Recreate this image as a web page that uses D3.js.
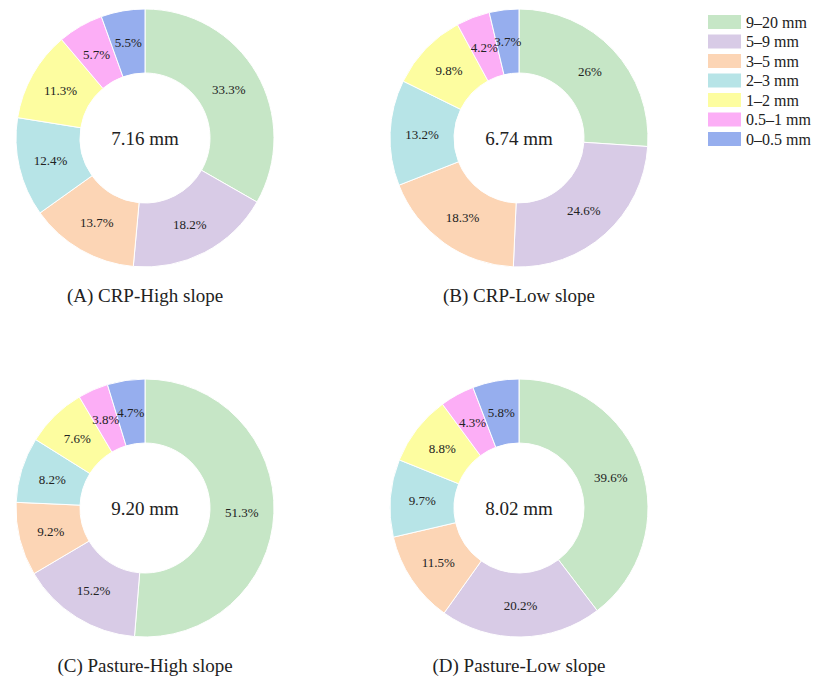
<!DOCTYPE html>
<html lang="en">
<head>
  <meta charset="UTF-8">
  <title>Particle size distribution</title>
  <script src="https://d3js.org/d3.v7.min.js"></script>
  <style>
    body { margin: 0; background: #fff; }
    text { font-family: "Liberation Serif", "DejaVu Serif", serif; fill: #222; }
  </style>
</head>
<body>
  <svg width="813" height="676"></svg>

  <script>
    // Size classes (legend order, also slice order clockwise from 12 o'clock)
    const classes = ["9\u201320 mm", "5\u20139 mm", "3\u20135 mm", "2\u20133 mm", "1\u20132 mm", "0.5\u20131 mm", "0\u20130.5 mm"];
    const colors = ["#c6e6c6", "#d8cbe6", "#fcd5b5", "#b7e4e7", "#fdfda0", "#fcaef6", "#96aeee"];

    // Percentages per panel
    const crpHigh = [33.3, 18.2, 13.7, 12.4, 11.3, 5.7, 5.5];
    const crpLow = [26, 24.6, 18.3, 13.2, 9.8, 4.2, 3.7];
    const pastureHigh = [51.3, 15.2, 9.2, 8.2, 7.6, 3.8, 4.7];
    const pastureLow = [39.6, 20.2, 11.5, 9.7, 8.8, 4.3, 5.8];

    const panelTitles = ["(A) CRP-High slope", "(B) CRP-Low slope", "(C) Pasture-High slope", "(D) Pasture-Low slope"];
    const centerLabels = ["7.16 mm", "6.74 mm", "9.20 mm", "8.02 mm"];

    const panels = [crpHigh, crpLow, pastureHigh, pastureLow];
    const centers = [[145, 138], [519, 138], [145, 508], [519, 508]];

    const outerR = 129, innerR = 65;

    const svg = d3.select("svg");

    const color = d3.scaleOrdinal().domain(classes).range(colors);

    const pie = d3.pie().sort(null).value(d => d.value);
    const arc = d3.arc().innerRadius(innerR).outerRadius(outerR);

    panels.forEach((values, i) => {
      const data = values.map((v, j) => ({ cls: classes[j], value: v }));
      const g = svg.append("g")
        .attr("transform", "translate(" + centers[i][0] + "," + centers[i][1] + ")");

      const arcs = pie(data);

      g.selectAll("path")
        .data(arcs)
        .join("path")
        .attr("d", arc)
        .attr("fill", d => color(d.data.cls))
        .attr("stroke", "#fff")
        .attr("stroke-width", 1);

      g.selectAll("text.pct")
        .data(arcs)
        .join("text")
        .attr("class", "pct")
        .attr("transform", d => "translate(" + arc.centroid(d) + ")")
        .attr("text-anchor", "middle")
        .attr("dy", "0.35em")
        .style("font-size", "13px")
        .text(d => d.data.value + "%");

      g.append("text")
        .attr("text-anchor", "middle")
        .attr("dy", "0.35em")
        .style("font-size", "19px")
        .text(centerLabels[i]);

      g.append("text")
        .attr("y", outerR + 28)
        .attr("text-anchor", "middle")
        .attr("dy", "0.35em")
        .style("font-size", "19px")
        .text(panelTitles[i]);
    });

    // Legend
    const legend = svg.append("g").attr("transform", "translate(708,15)");
    const row = legend.selectAll("g")
      .data(classes)
      .join("g")
      .attr("transform", (d, i) => "translate(0," + i * 19.5 + ")");

    row.append("rect")
      .attr("width", 33)
      .attr("height", 14)
      .attr("fill", d => color(d));

    row.append("text")
      .attr("x", 38)
      .attr("y", 7)
      .attr("dy", "0.35em")
      .style("font-size", "16px")
      .text(d => d);
  </script>
</body>
</html>
